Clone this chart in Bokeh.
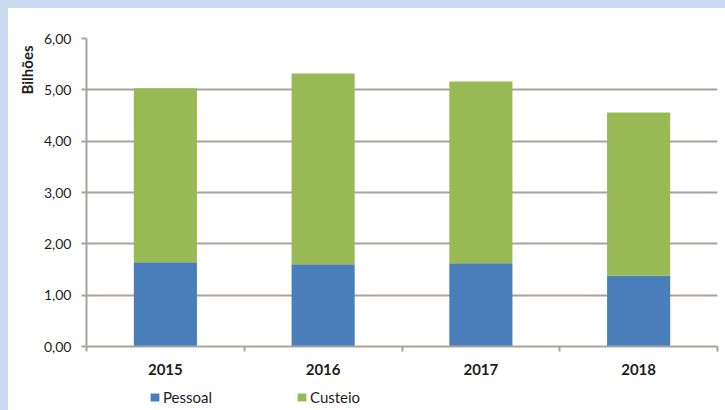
import math
from bokeh.plotting import figure
from bokeh.layouts import column
from bokeh.models import (ColumnDataSource, FixedTicker, Legend, LegendItem, Title, Range1d)
from bokeh.embed import file_html
from bokeh.resources import INLINE

# ---- data ----
years = ["2015", "2016", "2017", "2018"]
pessoal = [1.64, 1.60, 1.62, 1.38]
custeio = [3.39, 3.72, 3.54, 3.18]
y_ticks = [0, 1, 2, 3, 4, 5, 6]
y_label = "Bilhões"
series_names = ["Pessoal", "Custeio"]

BLUE = "#4a7ebb"
GREEN = "#98b954"
GRID = "#aaa29e"
FONT = "Lato"

n = len(years)
centers = [i + 0.5 for i in range(n)]
bounds = list(range(n + 1))
top_c = [a + b for a, b in zip(pessoal, custeio)]

src = ColumnDataSource(dict(x=centers, p=pessoal, c_bottom=pessoal, c_top=top_c))

p = figure(width=717, height=378, x_range=(0, n), y_range=(0, 6),
           output_backend="svg", toolbar_location=None,
           min_border_left=78, min_border_right=8, min_border_top=30, min_border_bottom=40,
           styles={"background-color": "white"})
p.outline_line_color = None
p.background_fill_color = "white"
p.border_fill_color = "white"

p.vbar(x="x", top="p", bottom=0, width=0.4, source=src,
       fill_color=BLUE, line_color=None)
p.vbar(x="x", top="c_top", bottom="c_bottom", width=0.4, source=src,
       fill_color=GREEN, line_color=None)

# y axis
ya = p.yaxis[0]
ya.ticker = FixedTicker(ticks=y_ticks, minor_ticks=[])
ya.major_label_overrides = {t: f"{t:.2f}".replace(".", ",") for t in y_ticks}
ya.axis_line_color = GRID
ya.axis_line_width = 2
ya.major_tick_line_color = GRID
ya.major_tick_line_width = 2
ya.major_tick_out = 5
ya.major_tick_in = 0
ya.major_label_standoff = 10
ya.major_label_text_font = FONT
ya.major_label_text_font_size = "14px"
ya.major_label_text_color = "#1e1e1e"

# x axis: labels at centers, small ticks at category boundaries
xa = p.xaxis[0]
xa.ticker = FixedTicker(ticks=centers, minor_ticks=bounds)
xa.major_label_overrides = {c: y for c, y in zip(centers, years)}
xa.axis_line_color = GRID
xa.axis_line_width = 2
xa.major_tick_line_alpha = 0
xa.major_tick_out = 5
xa.major_tick_in = 0
xa.minor_tick_line_color = GRID
xa.minor_tick_line_width = 2
xa.minor_tick_out = 5
xa.minor_tick_in = 0
xa.major_label_standoff = 12
xa.major_label_text_font = FONT
xa.major_label_text_font_size = "15px"
xa.major_label_text_font_style = "bold"
xa.major_label_text_color = "#1e1e1e"

p.xgrid.grid_line_color = None
p.ygrid.grid_line_color = GRID
p.ygrid.grid_line_width = 2
p.ygrid.ticker = FixedTicker(ticks=y_ticks)

# y axis title near the top, on the left side
ttl = Title(text=y_label, align="right", offset=7,
            text_font=FONT, text_font_size="15px", text_font_style="bold",
            text_color="#1e1e1e")
p.add_layout(ttl, "left")

# ---- legend strip below the chart ----
lg = figure(width=717, height=24, x_range=Range1d(0, 1), y_range=Range1d(0, 1),
            output_backend="svg", toolbar_location=None,
            x_axis_location=None, y_axis_location=None,
            min_border_left=0, min_border_right=0, min_border_top=0, min_border_bottom=0,
            styles={"background-color": "white"})
lg.outline_line_color = None
lg.grid.visible = False
lg.border_fill_color = "white"
lg.background_fill_color = "white"
nan = float("nan")
d1 = lg.vbar(x=[nan], top=[nan], width=0.1, fill_color=BLUE, line_color=None)
d2 = lg.vbar(x=[nan], top=[nan], width=0.1, fill_color=GREEN, line_color=None)

legend = Legend(items=[LegendItem(label=series_names[0], renderers=[d1]),
                       LegendItem(label=series_names[1], renderers=[d2])],
                orientation="horizontal", location=(63, 4),
                padding=0, margin=0, spacing=0,
                glyph_width=11, glyph_height=10, label_standoff=3, label_width=133,
                label_text_font=FONT, label_text_font_size="15px",
                label_text_color="#1e1e1e",
                border_line_color=None, background_fill_alpha=0)
lg.add_layout(legend)

layout = column(p, lg, spacing=0, styles={"background-color": "white"})

html = file_html(layout, INLINE)
style = ("<style>html,body{background:#c9d9ee !important;}"
         "body{margin:0 !important;padding:8px 0 0 8px !important;"
         "box-sizing:border-box !important;}</style>")
html = html.replace("</head>", style + "</head>", 1)
open("out.html", "w").write(html)
